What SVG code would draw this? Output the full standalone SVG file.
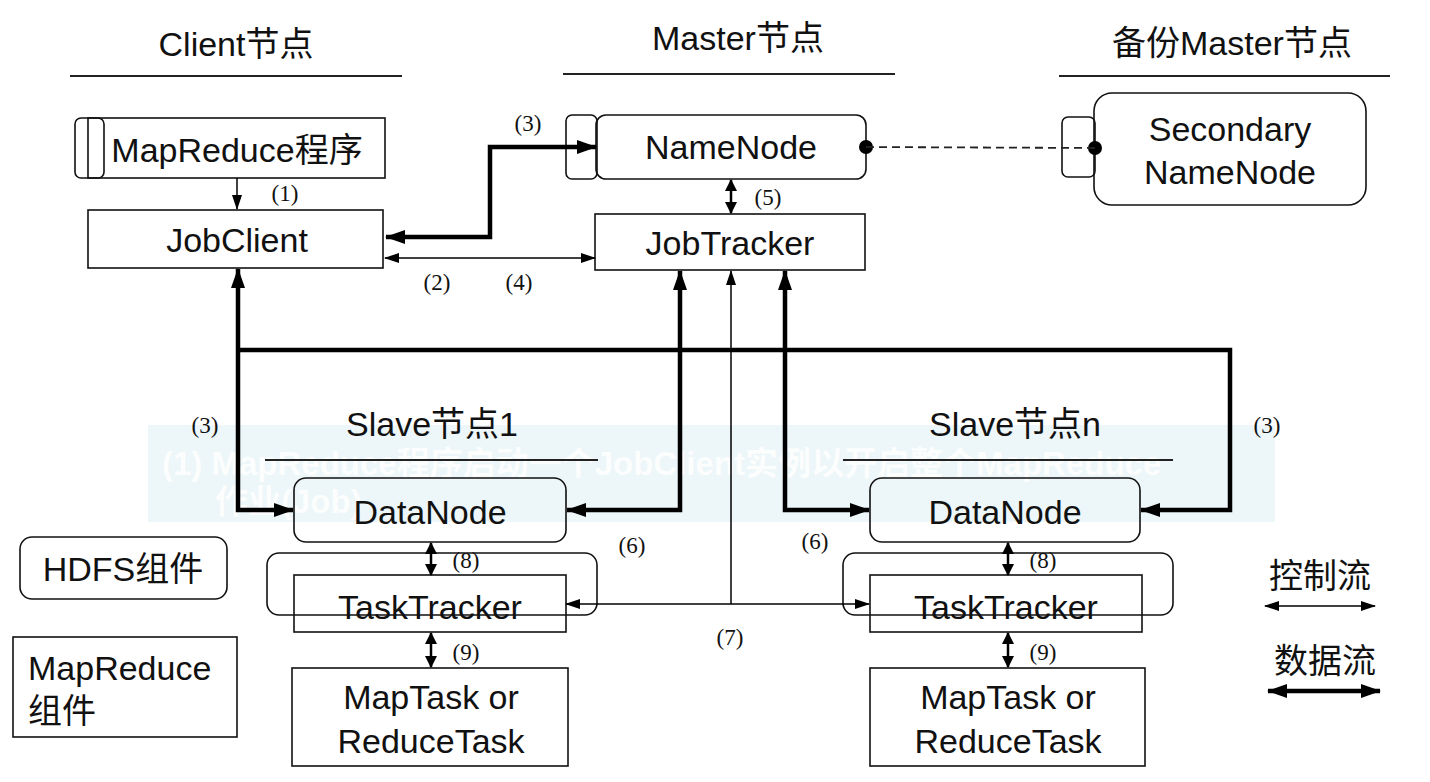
<svg xmlns="http://www.w3.org/2000/svg" width="1430" height="782" viewBox="0 0 1430 782">
<style>
.t{font-family:"Liberation Sans","Noto Sans CJK SC",sans-serif;font-size:34px;fill:#111;text-anchor:middle}
.n{font-family:"Liberation Serif","Noto Serif CJK SC",serif;font-size:23px;fill:#111;text-anchor:middle}
.box{fill:none;stroke:#111;stroke-width:1.6}
.nf{fill:none;stroke:#111;stroke-width:1.6}
.hl{stroke:#222;stroke-width:2.2}
.thick{fill:none;stroke:#000;stroke-width:4.5}
.thin{fill:none;stroke:#000;stroke-width:1.5}
.mid{fill:none;stroke:#000;stroke-width:2.5}
.band{font-family:"Liberation Sans","Noto Sans CJK SC",sans-serif;font-size:33px;font-weight:bold;fill:#fff;fill-opacity:0.85}
</style>
<defs>
<marker id="ak" markerUnits="userSpaceOnUse" markerWidth="20" markerHeight="14" refX="19" refY="7" orient="auto-start-reverse"><path d="M0,0 L20,7 L0,14 z" fill="#000"/></marker>
<marker id="an" markerUnits="userSpaceOnUse" markerWidth="15" markerHeight="10" refX="14" refY="5" orient="auto-start-reverse"><path d="M0,0 L15,5 L0,10 z" fill="#000"/></marker>
<marker id="am" markerUnits="userSpaceOnUse" markerWidth="12" markerHeight="12" refX="11" refY="6" orient="auto-start-reverse"><path d="M0,0 L12,6 L0,12 z" fill="#000"/></marker>
</defs>
<rect width="1430" height="782" fill="#fff"/>
<g id="overlay">
<rect x="148" y="425" width="1127" height="97" fill="#edf6f8"/>
<text class="band" x="162" y="475">(1) MapReduce程序启动一个JobClient实例以开启整个MapReduce</text>
<text class="band" x="215" y="513">作业(Job)</text>
</g>
<g id="headers">
<text class="t" x="236" y="56">Client节点</text>
<line class="hl" x1="70" y1="76" x2="402" y2="76"/>
<text class="t" x="738" y="50">Master节点</text>
<line class="hl" x1="563" y1="74" x2="895" y2="74"/>
<text class="t" x="1232" y="55">备份Master节点</text>
<line class="hl" x1="1059" y1="76" x2="1390" y2="76"/>
<text class="t" x="432" y="436">Slave节点1</text>
<line class="hl" x1="265" y1="460" x2="598" y2="460"/>
<text class="t" x="1015" y="436">Slave节点n</text>
<line class="hl" x1="843" y1="460" x2="1173" y2="460"/>
</g>
<g id="mapreduce-program">
<rect class="box" x="75" y="118" width="29" height="60" rx="6"/>
<rect class="nf" x="88" y="118" width="297" height="60"/>
<text class="t" x="237" y="162">MapReduce程序</text>
</g>
<g id="jobclient">
<rect class="nf" x="88" y="210" width="295" height="58"/>
<text class="t" x="237" y="252">JobClient</text>
</g>
<g id="namenode">
<rect class="box" x="566" y="115" width="31" height="64" rx="6"/>
<rect class="nf" x="596" y="115" width="270" height="64" rx="10"/>
<circle cx="866" cy="147" r="7" fill="#000"/>
<text class="t" x="731" y="159">NameNode</text>
</g>
<g id="jobtracker">
<rect class="nf" x="595" y="214" width="270" height="56"/>
<text class="t" x="730" y="255">JobTracker</text>
</g>
<g id="secondary-namenode">
<rect class="box" x="1062" y="117" width="33" height="60" rx="6"/>
<rect class="nf" x="1094" y="93" width="272" height="112" rx="18"/>
<circle cx="1095" cy="148" r="7" fill="#000"/>
<text class="t" x="1230" y="141">Secondary</text>
<text class="t" x="1230" y="184">NameNode</text>
</g>
<g id="slave1">
<rect class="nf" x="294" y="478" width="272" height="64" rx="12"/>
<text class="t" x="430" y="524">DataNode</text>
<rect class="nf" x="294" y="575" width="272" height="57"/>
<rect class="nf" x="267" y="553" width="330" height="62" rx="12"/>
<text class="t" x="430" y="619">TaskTracker</text>
<rect class="nf" x="292" y="668" width="276" height="98"/>
<text class="t" x="431" y="709">MapTask or</text>
<text class="t" x="431" y="753">ReduceTask</text>
</g>
<g id="slaven">
<rect class="nf" x="870" y="478" width="270" height="64" rx="12"/>
<text class="t" x="1005" y="524">DataNode</text>
<rect class="nf" x="870" y="575" width="272" height="57"/>
<rect class="nf" x="843" y="553" width="330" height="62" rx="12"/>
<text class="t" x="1006" y="619">TaskTracker</text>
<rect class="nf" x="870" y="668" width="275" height="98"/>
<text class="t" x="1008" y="709">MapTask or</text>
<text class="t" x="1008" y="753">ReduceTask</text>
</g>
<g id="legend">
<rect class="nf" x="20" y="537" width="207" height="62" rx="12"/>
<text class="t" x="123" y="581">HDFS组件</text>
<rect class="nf" x="13" y="637" width="224" height="100"/>
<text class="t" x="28" y="680" style="text-anchor:start">MapReduce</text>
<text class="t" x="28" y="723" style="text-anchor:start">组件</text>
<text class="t" x="1320" y="588">控制流</text>
<path class="thin" d="M1265,606 L1375,606" marker-start="url(#an)" marker-end="url(#an)"/>
<text class="t" x="1325" y="673">数据流</text>
<path class="thick" d="M1268,691 L1380,691" marker-start="url(#ak)" marker-end="url(#ak)"/>
</g>
<g id="connectors">
<path class="thin" d="M237,178 L237,209" marker-end="url(#an)"/>
<path class="thick" d="M596,147 L490,147 L490,237 L386,237" marker-start="url(#ak)" marker-end="url(#ak)"/>
<path class="thin" d="M385,258 L595,258" marker-start="url(#an)" marker-end="url(#an)"/>
<path class="mid" d="M731,180 L731,213" marker-start="url(#am)" marker-end="url(#am)"/>
<line x1="866" y1="147" x2="1095" y2="148" stroke="#222" stroke-width="1.8" stroke-dasharray="8,5"/>
<path class="thick" d="M238,269 L238,510 L293,510" marker-start="url(#ak)" marker-end="url(#ak)"/>
<path class="thick" d="M238,350 L1230,350 L1230,510 L1141,510" marker-end="url(#ak)"/>
<path class="thick" d="M680,271 L680,510 L567,510" marker-start="url(#ak)" marker-end="url(#ak)"/>
<path class="thick" d="M785,271 L785,510 L869,510" marker-start="url(#ak)" marker-end="url(#ak)"/>
<path class="thin" d="M731,271 L731,604" marker-start="url(#an)"/>
<path class="thin" d="M566,604 L869,604" marker-start="url(#an)" marker-end="url(#an)"/>
<path class="mid" d="M431,543 L431,575" marker-start="url(#am)" marker-end="url(#am)"/>
<path class="mid" d="M431,633 L431,667" marker-start="url(#am)" marker-end="url(#am)"/>
<path class="mid" d="M1008,543 L1008,575" marker-start="url(#am)" marker-end="url(#am)"/>
<path class="mid" d="M1008,633 L1008,667" marker-start="url(#am)" marker-end="url(#am)"/>
<text class="n" x="285" y="201">(1)</text>
<text class="n" x="528" y="131">(3)</text>
<text class="n" x="437" y="290">(2)</text>
<text class="n" x="519" y="290">(4)</text>
<text class="n" x="768" y="205">(5)</text>
<text class="n" x="205" y="433">(3)</text>
<text class="n" x="1267" y="433">(3)</text>
<text class="n" x="632" y="553">(6)</text>
<text class="n" x="815" y="549">(6)</text>
<text class="n" x="466" y="568">(8)</text>
<text class="n" x="1043" y="568">(8)</text>
<text class="n" x="730" y="645">(7)</text>
<text class="n" x="466" y="660">(9)</text>
<text class="n" x="1043" y="660">(9)</text>
</g>
</svg>
